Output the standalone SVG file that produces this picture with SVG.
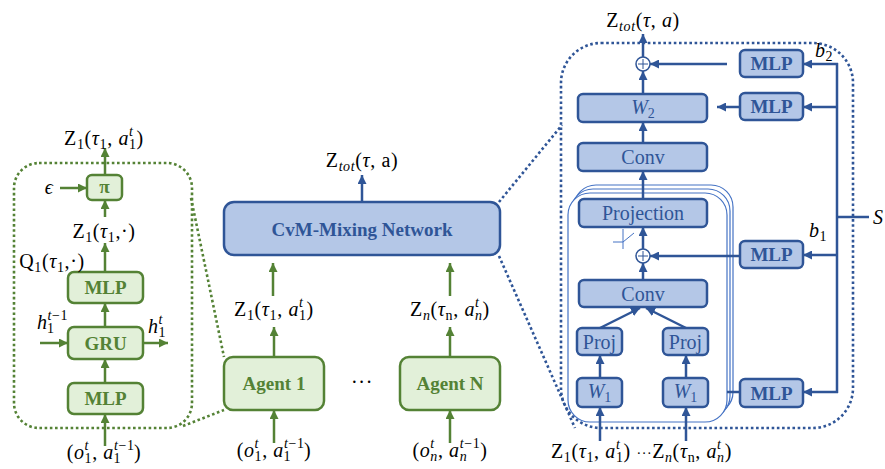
<svg xmlns="http://www.w3.org/2000/svg" width="885" height="469" viewBox="0 0 885 469">
<defs>
<marker id="ag" viewBox="0 0 10 10" refX="10" refY="5" markerUnits="userSpaceOnUse" markerWidth="9" markerHeight="9" orient="auto"><path d="M0,0 L10,5 L0,10 z" fill="#548235"/></marker>
<marker id="ab" viewBox="0 0 10 10" refX="10" refY="5" markerUnits="userSpaceOnUse" markerWidth="9" markerHeight="9" orient="auto"><path d="M0,0 L10,5 L0,10 z" fill="#2F5597"/></marker>
</defs>
<style>
.gbox{fill:#E2F0D9;stroke:#548235;stroke-width:2.5}
.bbox{fill:#B4C7E7;stroke:#2F5597;stroke-width:2.5}
.gdot{fill:none;stroke:#548235;stroke-width:2.6;stroke-dasharray:2.6 2.6}
.bdot{fill:none;stroke:#2F5597;stroke-width:2.6;stroke-dasharray:2.6 2.6}
.ga{stroke:#548235;stroke-width:2.5;fill:none;marker-end:url(#ag)}
.ba{stroke:#2F5597;stroke-width:2.5;fill:none;marker-end:url(#ab)}
.bl{stroke:#2F5597;stroke-width:2.5;fill:none}
.stk{fill:#fff;stroke:#4472C4;stroke-width:1.2}
.gt{font-family:"Liberation Serif","DejaVu Serif",serif;font-weight:bold;font-size:19px;fill:#548235;text-anchor:middle}
.bt{font-family:"Liberation Serif","DejaVu Serif",serif;font-weight:bold;font-size:19px;fill:#2F5597;text-anchor:middle}
.bn{font-family:"Liberation Serif","DejaVu Serif",serif;font-size:20px;fill:#2F5597;text-anchor:middle}
.lab{font-family:"Liberation Serif","DejaVu Serif",serif;font-size:20px;letter-spacing:0.6px;fill:#000}
.i{font-style:italic}
.s{font-size:14px}
</style>

<!-- left panel outline and zoom lines -->
<rect class="gdot" x="14" y="163" width="178" height="265" rx="25"/>
<line class="gdot" x1="191" y1="198" x2="224" y2="357"/>
<line class="gdot" x1="183" y1="426" x2="224" y2="410"/>

<!-- right panel outline and zoom lines -->
<rect class="bdot" x="561" y="43" width="292" height="385" rx="40"/>
<line class="bdot" x1="499" y1="202" x2="562" y2="125"/>
<line class="bdot" x1="499" y1="256" x2="575" y2="428"/>

<!-- stacked layers -->
<g id="layer-stack">
<rect class="stk" x="574" y="185" width="159" height="229" rx="22"/>
<rect class="stk" x="571" y="189" width="159" height="229" rx="22"/>
<rect class="stk" x="568" y="193" width="159" height="229" rx="22"/>
</g>

<g id="connectors">
<line class="ga" x1="105" y1="446" x2="105" y2="414"/>
<line class="ga" x1="105" y1="383" x2="105" y2="359"/>
<line class="ga" x1="105" y1="327" x2="105" y2="303"/>
<line class="ga" x1="105" y1="272" x2="105" y2="243"/>
<line class="ga" x1="105" y1="217" x2="105" y2="200"/>
<line class="ga" x1="105" y1="175" x2="105" y2="148"/>
<line class="ga" x1="60" y1="188" x2="87" y2="188"/>
<line class="ga" x1="40" y1="343" x2="68" y2="343"/>
<line class="ga" x1="143" y1="343" x2="168" y2="343"/>
<line class="ga" x1="274" y1="443" x2="274" y2="410"/>
<line class="ga" x1="450" y1="443" x2="450" y2="410"/>
<line class="ga" x1="274" y1="357" x2="274" y2="327"/>
<line class="ga" x1="450" y1="357" x2="450" y2="327"/>
<line class="ga" x1="273" y1="296" x2="273" y2="263"/>
<line class="ga" x1="450" y1="296" x2="450" y2="263"/>
<line class="ba" x1="362" y1="202" x2="362" y2="175"/>
<line class="ba" x1="643" y1="57" x2="643" y2="34"/>
<line class="ba" x1="643" y1="94" x2="643" y2="71"/>
<line class="ba" x1="643" y1="143" x2="643" y2="122"/>
<line class="ba" x1="643" y1="199" x2="643" y2="171"/>
<line class="ba" x1="643" y1="249" x2="643" y2="227"/>
<line class="ba" x1="643" y1="280" x2="643" y2="263"/>
<line class="ba" x1="600" y1="328" x2="640" y2="308"/>
<line class="ba" x1="686" y1="328" x2="646" y2="308"/>
<line class="ba" x1="600" y1="378" x2="600" y2="355"/>
<line class="ba" x1="686" y1="378" x2="686" y2="355"/>
<line class="ba" x1="600" y1="441" x2="600" y2="407"/>
<line class="ba" x1="686" y1="441" x2="686" y2="407"/>
<line class="ba" x1="727" y1="64" x2="650" y2="64"/>
<line class="ba" x1="740" y1="107" x2="717" y2="107"/>
<line class="ba" x1="740" y1="256" x2="650" y2="256"/>
<line class="bl" x1="740" y1="392" x2="727" y2="392"/>
<line class="bl" x1="837" y1="63" x2="837" y2="393"/>
<line class="bl" x1="837" y1="217" x2="869" y2="217"/>
<line class="ba" x1="838" y1="64" x2="803" y2="64"/>
<line class="ba" x1="838" y1="107" x2="803" y2="107"/>
<line class="ba" x1="838" y1="255" x2="803" y2="255"/>
<line class="ba" x1="838" y1="392" x2="803" y2="392"/>
</g>

<g id="pi"><rect class="gbox" x="87" y="175" width="35" height="25" rx="5"/><text class="gt" x="104.5" y="193" font-size="17">π</text></g>
<g id="mlp-top"><rect class="gbox" x="68" y="272" width="75" height="31" rx="6"/><text class="gt" x="105.5" y="294">MLP</text></g>
<g id="gru"><rect class="gbox" x="68" y="327" width="75" height="32" rx="6"/><text class="gt" x="105.5" y="350">GRU</text></g>
<g id="mlp-bottom"><rect class="gbox" x="68" y="383" width="75" height="31" rx="6"/><text class="gt" x="105.5" y="405">MLP</text></g>

<g id="agent1"><rect class="gbox" x="224" y="357" width="100" height="53" rx="9"/><text class="gt" x="274" y="390">Agent 1</text></g>
<g id="agentN"><rect class="gbox" x="400" y="357" width="100" height="53" rx="9"/><text class="gt" x="450" y="390">Agent N</text></g>
<g id="cvm"><rect class="bbox" x="224" y="202" width="276" height="53" rx="10"/><text class="bt" x="362" y="236">CvM-Mixing Network</text></g>

<g id="mlp-b2"><rect class="bbox" x="740" y="50" width="63" height="27" rx="5"/><text class="bt" x="771.5" y="70">MLP</text></g>
<g id="mlp-w2"><rect class="bbox" x="740" y="93" width="63" height="27" rx="5"/><text class="bt" x="771.5" y="113">MLP</text></g>
<g id="mlp-b1"><rect class="bbox" x="740" y="241" width="63" height="27" rx="5"/><text class="bt" x="771.5" y="261">MLP</text></g>
<g id="mlp-w1"><rect class="bbox" x="740" y="379" width="63" height="28" rx="5"/><text class="bt" x="771.5" y="400">MLP</text></g>
<g id="w2"><rect class="bbox" x="578" y="94" width="129" height="28" rx="5"/><text class="bn" x="643" y="114"><tspan class="i">W</tspan><tspan font-size="14" dy="4">2</tspan></text></g>
<g id="conv-top"><rect class="bbox" x="578" y="143" width="129" height="28" rx="5"/><text class="bn" x="643" y="164">Conv</text></g>
<g id="projection"><rect class="bbox" x="579" y="199" width="128" height="28" rx="5"/><text class="bn" x="643" y="220">Projection</text></g>
<g id="conv-inner"><rect class="bbox" x="579" y="280" width="128" height="27" rx="5"/><text class="bn" x="643" y="301">Conv</text></g>
<g id="proj1"><rect class="bbox" x="577" y="328" width="45" height="27" rx="5"/><text class="bn" x="599.5" y="349" font-size="21">Proj</text></g>
<g id="projn"><rect class="bbox" x="663" y="328" width="45" height="27" rx="5"/><text class="bn" x="685.5" y="349" font-size="21">Proj</text></g>
<g id="w1a"><rect class="bbox" x="577" y="378" width="45" height="29" rx="5"/><text class="bn" x="599.5" y="398"><tspan class="i">W</tspan><tspan font-size="14" dy="4">1</tspan></text></g>
<g id="w1n"><rect class="bbox" x="663" y="378" width="45" height="29" rx="5"/><text class="bn" x="685.5" y="398"><tspan class="i">W</tspan><tspan font-size="14" dy="4">1</tspan></text></g>
<g id="plus-top"><circle cx="643" cy="64" r="7" fill="#fff" stroke="#2F5597" stroke-width="1.5"/><path d="M638,64 H648 M643,59 V69" stroke="#2F5597" stroke-width="1"/></g>
<g id="plus-inner"><circle cx="643" cy="256" r="7" fill="#fff" stroke="#2F5597" stroke-width="1.5"/><path d="M638,256 H648 M643,251 V261" stroke="#2F5597" stroke-width="1"/></g>
<g id="activation"><path d="M623,229 V249 M613,242 H623 L634,233" fill="none" stroke="#4472C4" stroke-width="1"/></g>

<g id="labels">
<text class="lab" x="104" y="145" text-anchor="middle">Z<tspan class="s" dy="4">1</tspan><tspan dy="-4">(</tspan><tspan class="i">τ</tspan><tspan class="s" dy="4">1</tspan><tspan dy="-4">, </tspan><tspan class="i">a</tspan><tspan class="s i" dy="-9">t</tspan><tspan class="s" dx="-4.5" dy="13">1</tspan><tspan dy="-4">)</tspan></text>
<text class="lab i" x="49" y="194" text-anchor="middle">ϵ</text>
<text class="lab" x="104" y="238" text-anchor="middle">Z<tspan class="s" dy="4">1</tspan><tspan dy="-4">(</tspan><tspan class="i">τ</tspan><tspan class="s" dy="4">1</tspan><tspan dy="-4">,·)</tspan></text>
<text class="lab" x="52" y="268" text-anchor="middle">Q<tspan class="s" dy="4">1</tspan><tspan dy="-4">(</tspan><tspan class="i">τ</tspan><tspan class="s" dy="4">1</tspan><tspan dy="-4">,·)</tspan></text>
<text class="lab" x="37" y="329"><tspan class="i">h</tspan><tspan class="s" dy="-9"><tspan class="i">t</tspan>−1</tspan><tspan class="s" dx="-20.6" dy="13">1</tspan></text>
<text class="lab" x="148" y="333"><tspan class="i">h</tspan><tspan class="s i" dy="-9">t</tspan><tspan class="s" dx="-4.5" dy="13">1</tspan></text>
<text class="lab" x="104" y="459" text-anchor="middle">(<tspan class="i">o</tspan><tspan class="s i" dy="-9">t</tspan><tspan class="s" dx="-4.5" dy="13">1</tspan><tspan dy="-4">, </tspan><tspan class="i">a</tspan><tspan class="s" dy="-9"><tspan class="i">t</tspan>−1</tspan><tspan class="s" dx="-20.6" dy="13">1</tspan><tspan dx="13" dy="-4">)</tspan></text>

<text class="lab" x="362" y="167" text-anchor="middle">Z<tspan class="s i" dy="4">tot</tspan><tspan dy="-4">(</tspan><tspan class="i">τ</tspan>, a)</text>
<text class="lab" x="274" y="316" text-anchor="middle">Z<tspan class="s" dy="4">1</tspan><tspan dy="-4">(</tspan><tspan class="i">τ</tspan><tspan class="s" dy="4">1</tspan><tspan dy="-4">, </tspan><tspan class="i">a</tspan><tspan class="s i" dy="-9">t</tspan><tspan class="s" dx="-4.5" dy="13">1</tspan><tspan dy="-4">)</tspan></text>
<text class="lab" x="450" y="316" text-anchor="middle">Z<tspan class="s i" dy="4">n</tspan><tspan dy="-4">(</tspan><tspan class="i">τ</tspan><tspan class="s" dy="4">n</tspan><tspan dy="-4">, </tspan><tspan class="i">a</tspan><tspan class="s i" dy="-9">t</tspan><tspan class="s i" dx="-4.5" dy="13">n</tspan><tspan dy="-4">)</tspan></text>
<text class="lab" x="274" y="457" text-anchor="middle">(<tspan class="i">o</tspan><tspan class="s i" dy="-9">t</tspan><tspan class="s" dx="-4.5" dy="13">1</tspan><tspan dy="-4">, </tspan><tspan class="i">a</tspan><tspan class="s" dy="-9"><tspan class="i">t</tspan>−1</tspan><tspan class="s" dx="-20.6" dy="13">1</tspan><tspan dx="13" dy="-4">)</tspan></text>
<text class="lab" x="450" y="457" text-anchor="middle">(<tspan class="i">o</tspan><tspan class="s i" dy="-9">t</tspan><tspan class="s i" dx="-4.5" dy="13">n</tspan><tspan dy="-4">, </tspan><tspan class="i">a</tspan><tspan class="s" dy="-9"><tspan class="i">t</tspan>−1</tspan><tspan class="s i" dx="-20.6" dy="13">n</tspan><tspan dx="13" dy="-4">)</tspan></text>
<text class="lab" x="362" y="389" text-anchor="middle" font-size="14">···</text>

<text class="lab" x="643" y="27" text-anchor="middle">Z<tspan class="s i" dy="4">tot</tspan><tspan dy="-4">(</tspan><tspan class="i">τ</tspan>, <tspan class="i">a</tspan>)</text>
<text class="lab" x="815" y="57"><tspan class="i">b</tspan><tspan class="s" dy="4">2</tspan></text>
<text class="lab" x="809" y="237"><tspan class="i">b</tspan><tspan class="s" dy="4">1</tspan></text>
<text class="lab i" x="873" y="224" font-size="21">S</text>
<text class="lab" x="551" y="458">Z<tspan class="s" dy="4">1</tspan><tspan dy="-4">(</tspan><tspan class="i">τ</tspan><tspan class="s" dy="4">1</tspan><tspan dy="-4">, </tspan><tspan class="i">a</tspan><tspan class="s i" dy="-9">t</tspan><tspan class="s" dx="-4.5" dy="13">1</tspan><tspan dy="-4">) </tspan><tspan font-size="14">···</tspan>Z<tspan class="s i" dy="4">n</tspan><tspan dy="-4">(</tspan><tspan class="i">τ</tspan><tspan class="s" dy="4">n</tspan><tspan dy="-4">, </tspan><tspan class="i">a</tspan><tspan class="s i" dy="-9">t</tspan><tspan class="s i" dx="-4.5" dy="13">n</tspan><tspan dy="-4">)</tspan></text>
</g>
</svg>
